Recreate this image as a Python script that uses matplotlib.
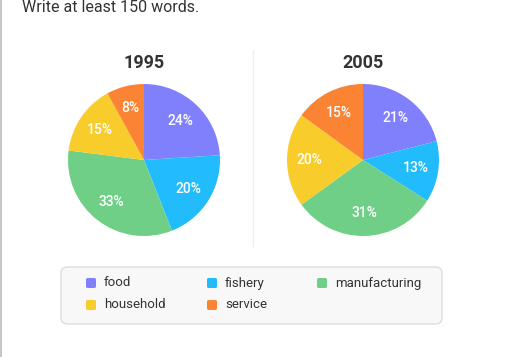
import matplotlib.pyplot as plt
from matplotlib.patches import FancyBboxPatch

# data
categories = ["food", "fishery", "manufacturing", "household", "service"]
colors = ["#8080fd", "#22bbfc", "#70cf87", "#f8cc2b", "#fa8433"]
years = ["1995", "2005"]
shares_1995 = [24, 20, 33, 15, 8]
shares_2005 = [21, 13, 31, 20, 15]

W, H = 512, 357
plt.rcParams['font.family'] = ['Roboto', 'DejaVu Sans']
fig = plt.figure(figsize=(W / 100, H / 100), dpi=100)


def px_axes(left, top, width, height):
    return fig.add_axes([left / W, 1 - (top + height) / H, width / W, height / H])


# header text + left border
fig.text(22 / W, 1 - 8 / H, "Write at least 150 words.", fontsize=11.5,
         color="#333333", va="center", ha="left")
fig.add_artist(plt.Line2D([1 / W, 1 / W], [0, 1], color="#bbbbbb", lw=1.2))

# divider between the pies
fig.add_artist(plt.Line2D([253 / W, 253 / W], [1 - 50 / H, 1 - 246 / H],
                          color="#eeeeee", lw=1))

centers = [(144, 160), (363, 160)]
radius = 76
for (cx, cy), year, shares in zip(centers, years, [shares_1995, shares_2005]):
    ax = px_axes(cx - radius, cy - radius, 2 * radius, 2 * radius)
    wedges, texts, autotexts = ax.pie(
        shares, colors=colors, startangle=90, counterclock=False,
        autopct="%d%%", pctdistance=0.7, radius=1,
        wedgeprops=dict(linewidth=0),
        textprops=dict(color="white", fontsize=10, fontweight="medium"))
    ax.set_xlim(-1, 1)
    ax.set_ylim(-1, 1)
    ax.set_aspect("equal")
    ax.axis("off")
    fig.text(cx / W, 1 - 63 / H, year, fontsize=13, fontweight="bold",
             color="#333333", ha="center", va="center")

# legend box
box = FancyBboxPatch((61 / W, 1 - 324 / H), (442 - 61) / W, (324 - 267) / H,
                     boxstyle="round,pad=0,rounding_size=0.015",
                     transform=fig.transFigure, facecolor="#f8f8f8",
                     edgecolor="#dddddd", lw=1)
fig.add_artist(box)

col_x = [86, 207, 317]
row_y = [283, 305]
for i, (name, col) in enumerate(zip(categories, colors)):
    x = col_x[i % 3]
    y = row_y[i // 3]
    sq = FancyBboxPatch((x / W, 1 - (y + 5) / H), 10 / W, 10 / H,
                        boxstyle="round,pad=0,rounding_size=0.004",
                        transform=fig.transFigure, facecolor=col, lw=0)
    fig.add_artist(sq)
    fig.text((x + 18) / W, 1 - y / H, name, fontsize=9.5, color="#333333",
             ha="left", va="center")

fig.savefig("out.png", dpi=100, facecolor="white")
